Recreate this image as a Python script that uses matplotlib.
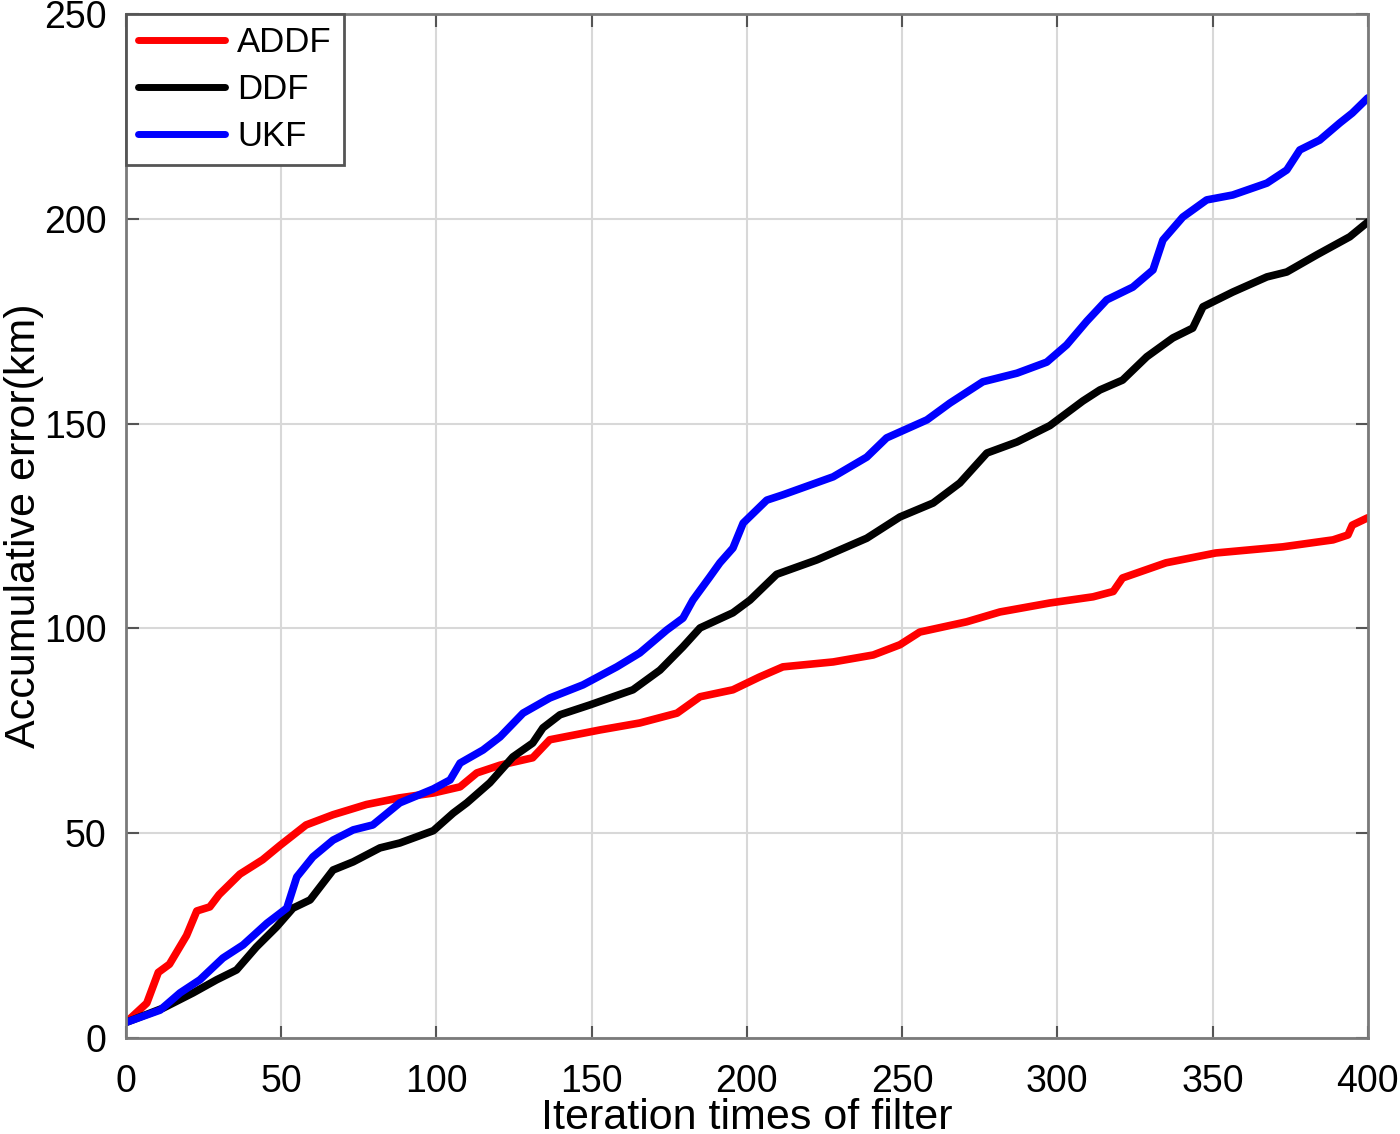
import matplotlib
matplotlib.use('Agg')
import matplotlib.pyplot as plt

plt.rcParams['font.family'] = ['Liberation Sans', 'DejaVu Sans']

# values
addf_x = [0, 6.7, 10.4, 14, 19.5, 22.8, 27, 30, 36.7, 44, 49.6, 58, 66.7, 77.5, 88,
          99, 107.6, 113, 120.5, 131, 136.5, 152.7, 165.5, 177.5, 184.9, 195.5, 204,
          211.6, 227.8, 240.7, 249.3, 255.7, 270.8, 281.5, 297.6, 311.5, 318, 321,
          335, 351, 372.6, 388.8, 393.6, 395, 400]
addf_y = [3.8, 8.5, 16, 18, 25, 31, 32, 35, 40, 43.5, 47, 52, 54.5, 57, 58.6,
          59.8, 61.3, 64.7, 66.6, 68.4, 72.8, 75.2, 76.9, 79.3, 83.3, 85, 88.1,
          90.6, 91.8, 93.5, 96, 99.1, 101.6, 104, 106.2, 107.7, 109, 112.3,
          116, 118.4, 119.9, 121.6, 122.8, 125.2, 127]

ddf_x = [0, 12, 21.6, 29.2, 35.6, 42, 48.5, 53.8, 59.3, 66.7, 73.2, 81.8, 88.2, 99,
         105.4, 109.8, 117.2, 124.6, 131, 134.3, 139.8, 149.4, 163.3, 172, 179.4,
         184.9, 195.5, 201, 209.6, 222.5, 238.6, 249.3, 260, 268.6, 277.3, 287,
         297.6, 308.2, 313.7, 321, 328.8, 337.2, 343.6, 346.9, 356.5, 367.5, 373.9,
         383.6, 394.2, 400]
ddf_y = [3.8, 7.3, 11, 14.2, 16.6, 22.2, 27.1, 31.7, 33.7, 41, 43, 46.4, 47.6, 50.6,
         54.9, 57.4, 62.3, 68.6, 72, 75.7, 78.9, 81.3, 85, 89.8, 95.5,
         100.1, 103.8, 106.9, 113.2, 116.7, 122, 127.2, 130.6, 135.5, 142.8, 145.5,
         149.5, 155.5, 158.2, 160.6, 166.3, 170.9, 173.3, 178.5, 182.1, 185.8, 187,
         191.2, 195.6, 199.2]

ukf_x = [0, 11, 17.4, 23.8, 31.2, 37.7, 45.4, 51.8, 55, 60.2, 66.7, 73.2, 79.5, 88.2,
         99, 104.4, 107.6, 115, 120.5, 127.9, 136.5, 147.2, 158.1, 165.5, 174.2,
         179.4, 182.6, 188, 191.3, 195.5, 198.8, 206.4, 211.6, 227.8, 238.6, 245,
         258, 265.4, 276, 287, 296.6, 303, 309.5, 315.9, 324.3, 330.8, 334, 340.4,
         348.1, 356.5, 367.5, 373.9, 378.1, 384.5, 391, 395, 400]
ukf_y = [3.8, 6.8, 11, 14.2, 19.5, 22.7, 28, 31.7, 39.3, 44.2, 48.3, 50.8, 52, 57.4,
         60.8, 63, 67.1, 70.3, 73.5, 79.3, 83, 86.2, 90.6, 94, 99.6,
         102.5, 106.9, 112.5, 116, 119.6, 125.7, 131.3, 132.6, 137, 141.8, 146.5,
         150.9, 155, 160.2, 162.3, 165, 169.2, 175, 180.2, 183.3, 187.5, 194.8, 200.4,
         204.6, 205.8, 208.7, 211.9, 216.8, 219.2, 223.4, 225.8, 229.5]

fig = plt.figure(figsize=(14, 11.34), dpi=100)
ax = fig.add_axes([0.09, 0.0847, 0.887, 0.903])

ax.plot(addf_x, addf_y, color='red', linewidth=5.5, label='ADDF',
        solid_joinstyle='round', solid_capstyle='round')
ax.plot(ddf_x, ddf_y, color='black', linewidth=5.5, label='DDF',
        solid_joinstyle='round', solid_capstyle='round')
ax.plot(ukf_x, ukf_y, color='blue', linewidth=5.5, label='UKF',
        solid_joinstyle='round', solid_capstyle='round')

ax.set_xlim(0, 400)
ax.set_ylim(0, 250)
ax.set_xticks(range(0, 401, 50))
ax.set_yticks(range(0, 251, 50))

ax.grid(True, color='#d8d8d8', linewidth=1.5)
ax.set_axisbelow(True)
for sp in ax.spines.values():
    sp.set_color('#7a7a7a')
    sp.set_linewidth(2)

ax.tick_params(direction='in', length=9, width=1.5, color='#555555',
               top=True, right=True, labelsize=27)
ax.tick_params(axis='x', pad=19)
ax.tick_params(axis='y', pad=14)

ax.set_xlabel('Iteration times of filter', fontsize=31, labelpad=-2)
ax.set_ylabel('Accumulative error(km)', fontsize=31, labelpad=0)

leg = ax.legend(loc='upper left', fontsize=25, fancybox=False, framealpha=1,
                borderaxespad=0, handlelength=2.5, handletextpad=0.35,
                labelspacing=0.4, borderpad=0.35)
leg.get_frame().set_edgecolor('#555555')
leg.get_frame().set_linewidth(2)
for line in leg.get_lines():
    line.set_linewidth(5)

plt.savefig('out.png', dpi=100)
